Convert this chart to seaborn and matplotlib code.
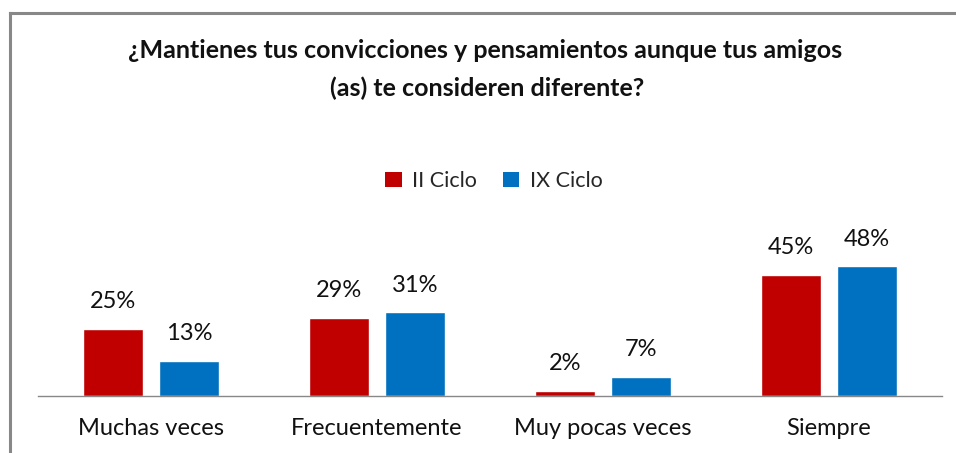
import matplotlib
matplotlib.use("Agg")
import matplotlib.pyplot as plt
import seaborn as sns
import pandas as pd
from matplotlib.patches import Rectangle
from matplotlib.lines import Line2D

categories = ["Muchas veces", "Frecuentemente", "Muy pocas veces", "Siempre"]
series_names = ["II Ciclo", "IX Ciclo"]
ii_ciclo = [25, 29, 2, 45]
ix_ciclo = [13, 31, 7, 48]
colors = ["#C00000", "#0070C0"]
title_lines = ["¿Mantienes tus convicciones y pensamientos aunque tus amigos",
               "(as) te consideren diferente?"]

df = pd.DataFrame({
    "cat": categories * 2,
    "serie": [series_names[0]] * 4 + [series_names[1]] * 4,
    "val": ii_ciclo + ix_ciclo,
})

sns.set_theme(style="white")
plt.rcParams["font.family"] = ["Lato", "DejaVu Sans"]

W, H = 956, 453
fig = plt.figure(figsize=(W / 100, H / 100), dpi=100)
fig.patch.set_facecolor("white")

ax_top = 200
ax_bottom = 396
ax = fig.add_axes([38 / W, 1 - ax_bottom / H, (942 - 38) / W, (ax_bottom - ax_top) / H])
sns.barplot(data=df, x="cat", y="val", hue="serie", order=categories,
            hue_order=series_names, palette=colors, width=0.67, gap=0.2,
            saturation=1, ax=ax, legend=False)

px_per_unit = 2.7
ax.set_ylim(0, (ax_bottom - ax_top) / px_per_unit)
ax.set_xlim(-0.5, 3.5)
ax.set_xlabel("")
ax.set_ylabel("")
ax.set_yticks([])
for s in ["top", "left", "right"]:
    ax.spines[s].set_visible(False)
ax.spines["bottom"].set_color("#888888")
ax.spines["bottom"].set_linewidth(1.0)
ax.tick_params(axis="x", length=0, pad=16, labelsize=17, colors="#111111")
ax.set_facecolor("white")

for cont in ax.containers:
    for bar in cont:
        h = bar.get_height()
        ax.annotate(f"{h:.0f}%", (bar.get_x() + bar.get_width() / 2, h),
                    xytext=(0, 12), textcoords="offset points",
                    ha="center", va="bottom", fontsize=17, color="#111111",
                    clip_on=False)

fig.text(485 / W, 1 - 50 / H, title_lines[0], ha="center", va="center",
         fontsize=18, fontweight="bold", color="#111111")
fig.text(487 / W, 1 - 88 / H, title_lines[1], ha="center", va="center",
         fontsize=18, fontweight="bold", color="#111111")

# legend
handles = [Rectangle((0, 0), 1, 1, facecolor=c, edgecolor="none") for c in colors]
fig.legend(handles, series_names, loc="center", bbox_to_anchor=(494 / W, 1 - 181 / H),
           ncol=2, frameon=False, fontsize=15.5, handlelength=0.75, handleheight=0.75,
           handletextpad=0.5, columnspacing=1.2)

# outer border (top and left only)
x0 = 10 / W
y0 = 1 - 13 / H
fig.lines.append(Line2D([x0, x0], [0, y0], transform=fig.transFigure,
                        color="#888888", linewidth=2.2, solid_capstyle="projecting"))
fig.lines.append(Line2D([x0, 1], [y0, y0], transform=fig.transFigure,
                        color="#888888", linewidth=2.2, solid_capstyle="projecting"))

fig.savefig("out.png", dpi=100, facecolor="white")
